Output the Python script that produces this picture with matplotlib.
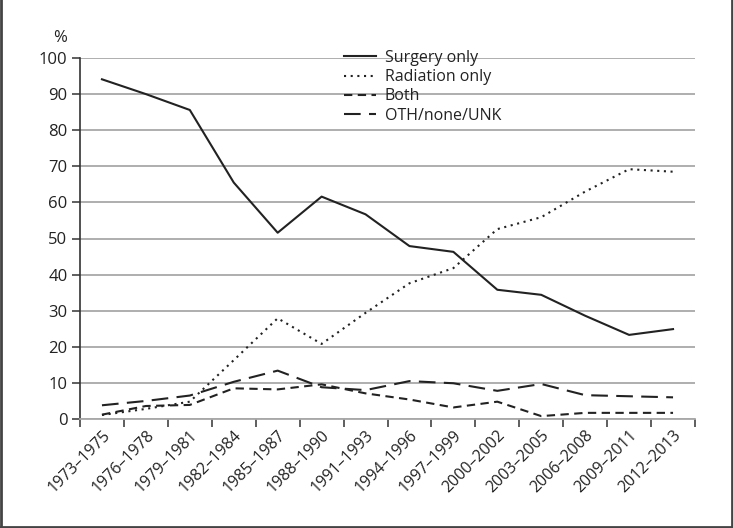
import matplotlib
matplotlib.use("Agg")
import matplotlib.pyplot as plt
from matplotlib.lines import Line2D

periods = ["1973\u20131975", "1976\u20131978", "1979\u20131981", "1982\u20131984", "1985\u20131987",
           "1988\u20131990", "1991\u20131993", "1994\u20131996", "1997\u20131999", "2000\u20132002",
           "2003\u20132005", "2006\u20132008", "2009\u20132011", "2012\u20132013"]
surgery = [94.1, 90.0, 85.6, 65.5, 51.6, 61.6, 56.7, 47.9, 46.3, 35.8, 34.4, 28.6, 23.3, 24.9]
radiation = [1.1, 2.8, 4.8, 16.3, 27.9, 20.8, 29.4, 37.6, 41.8, 52.6, 55.9, 63.0, 69.2, 68.5]
both = [1.2, 3.6, 3.9, 8.5, 8.2, 9.6, 7.1, 5.4, 3.2, 4.8, 0.8, 1.7, 1.7, 1.7]
other = [3.8, 5.0, 6.5, 10.3, 13.4, 8.8, 8.0, 10.5, 9.9, 7.8, 9.7, 6.6, 6.3, 6.0]

plt.rcParams['font.family'] = ['Open Sans', 'DejaVu Sans']

fig = plt.figure(figsize=(7.33, 5.28), dpi=100)
ax = fig.add_axes([80/733, 1-419/528, (695-80)/733, (419-58)/528])

x = list(range(len(periods)))
lc = '#222222'
lw = 1.5
ax.plot(x, surgery, color=lc, lw=lw, ls='-', label='Surgery only')
ax.plot(x, radiation, color=lc, lw=lw, ls=(0, (1, 2.2)), label='Radiation only')
ax.plot(x, both, color=lc, lw=lw, ls=(0, (4, 2.6)), label='Both')
ax.plot(x, other, color=lc, lw=lw, ls=(0, (8, 4)), label='OTH/none/UNK')

ax.set_xlim(-0.5, len(periods) - 0.5)
ax.set_ylim(0, 100)
ax.set_yticks(range(0, 101, 10))
ax.yaxis.grid(True, color='#a8a8a8', lw=1.3)
ax.set_axisbelow(True)

ax.set_xticks(x)
ax.set_xticklabels(periods, rotation=45, ha='right', rotation_mode='anchor', fontsize=11.5, color='#222222')
ax.set_xticks([i - 0.5 for i in range(len(periods) + 1)], minor=True)
ax.tick_params(axis='x', which='major', length=0, pad=6)
ax.tick_params(axis='x', which='minor', length=6, width=1.1, color='#333333', direction='out')
ax.tick_params(axis='y', length=6, width=1.1, color='#333333', labelsize=12, labelcolor='#222222', pad=3)

for s in ['top', 'right']:
    ax.spines[s].set_visible(False)
ax.spines['left'].set_color('#333333')
ax.spines['left'].set_linewidth(1.2)
ax.spines['bottom'].set_color('#a8a8a8')
ax.spines['bottom'].set_linewidth(1.3)

fig.text(60/733, 1-38/528, '%', fontsize=12, color='#222222', ha='center', va='center')

leg = ax.legend(loc='upper left', bbox_to_anchor=(344/733, 1-50/528), bbox_transform=fig.transFigure,
                frameon=False, fontsize=11.5, handlelength=2.0, handletextpad=0.55,
                labelspacing=0.2, borderaxespad=0, borderpad=0)
for t in leg.get_texts():
    t.set_color('#222222')

# image frame: left, bottom, right edges
fc = '#444444'
fig.add_artist(Line2D([1/733, 1/733], [0, 1], transform=fig.transFigure, color=fc, lw=2))
fig.add_artist(Line2D([0, 1], [1/528, 1/528], transform=fig.transFigure, color=fc, lw=2))
fig.add_artist(Line2D([1-1/733, 1-1/733], [0, 1], transform=fig.transFigure, color=fc, lw=2))

fig.savefig('out.png', dpi=100)
